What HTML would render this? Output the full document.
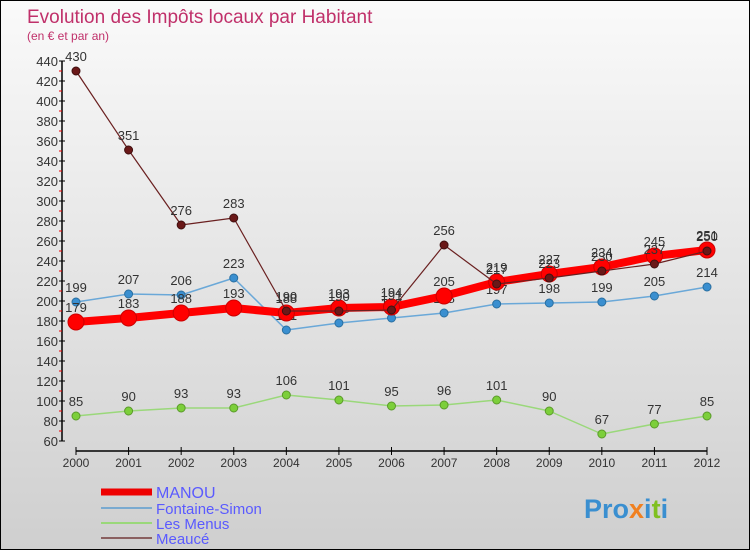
<!DOCTYPE html>
<html><head><meta charset="utf-8"><style>
body{margin:0}
#c{width:748px;height:548px;border:1px solid #000;background:linear-gradient(#fafafa,#cfcfcf);position:relative;overflow:hidden;font-family:"Liberation Sans",sans-serif}
</style></head><body>
<div id="c">
<svg width="748" height="548" font-family="Liberation Sans, sans-serif">
<text x="26" y="22" font-size="19" fill="#c0306a">Evolution des Impôts locaux par Habitant</text>
<text x="26" y="39" font-size="12" fill="#c0306a">(en € et par an)</text>
<g id="axes"></g><g id="series"></g>
<g>
<line x1="100" y1="491" x2="151" y2="491" stroke="#e00" stroke-width="7"/>
<text x="155" y="497" font-size="16" fill="#5a5aff">MANOU</text>
<line x1="100" y1="507" x2="151" y2="507" stroke="#7aaad0" stroke-width="2"/>
<text x="155" y="513" font-size="15" fill="#5a5aff">Fontaine-Simon</text>
<line x1="100" y1="522" x2="151" y2="522" stroke="#9ad87a" stroke-width="2"/>
<text x="155" y="528" font-size="15" fill="#5a5aff">Les Menus</text>
<line x1="100" y1="537" x2="151" y2="537" stroke="#8a6060" stroke-width="2"/>
<text x="155" y="543" font-size="15" fill="#5a5aff">Meaucé</text>
</g>
<text x="583" y="517" font-size="27" font-weight="bold" fill="#3a8fd0">Pro<tspan fill="#f08020">x</tspan><tspan fill="#3a8fd0">i</tspan><tspan fill="#80c020">t</tspan><tspan fill="#3a8fd0">i</tspan></text>
</svg></div>
<script>
const years=[2000,2001,2002,2003,2004,2005,2006,2007,2008,2009,2010,2011,2012];
const yTicks=[60,80,100,120,140,160,180,200,220,240,260,280,300,320,340,360,380,400,420,440];
const manou=[179,183,188,193,188,193,194,205,219,227,234,245,251];
const fontaine=[199,207,206,223,171,178,183,188,197,198,199,205,214];
const menus=[85,90,93,93,106,101,95,96,101,90,67,77,85];
const meauce=[430,351,276,283,190,190,191,256,217,223,230,237,250];
const NS='http://www.w3.org/2000/svg';
const X=i=>75+i*(706-75)/12;
const Y=v=>440-(v-60);
function mk(t,a,p){const e=document.createElementNS(NS,t);for(const k in a)e.setAttribute(k,a[k]);p.appendChild(e);return e;}
const ax=document.getElementById('axes');
let l=mk('line',{x1:61,y1:60,x2:61,y2:440,stroke:'#000','stroke-width':1.5},ax);


l=mk('line',{x1:75,y1:450,x2:706,y2:450,stroke:'#000','stroke-width':1.5},ax);


yTicks.forEach(v=>{
  mk('line',{x1:58,y1:Y(v),x2:64,y2:Y(v),stroke:'#000'},ax);
  if(v<440)mk('line',{x1:58,y1:Y(v+10),x2:61,y2:Y(v+10),stroke:'#e00'},ax);
  const t=mk('text',{x:57,y:Y(v)+5,'font-size':13,fill:'#333','text-anchor':'end'},ax);t.textContent=v;
  
  
});
years.forEach((yr,i)=>{
  mk('line',{x1:X(i),y1:446,x2:X(i),y2:454,stroke:'#000'},ax);
  const t=mk('text',{x:X(i),y:466,'font-size':12,fill:'#333','text-anchor':'middle'},ax);t.textContent=yr;
  
  
});
const sg=document.getElementById('series');
function draw(data,name,color,w,r,dot,stroke){
  const g=mk('g',{},sg);
  
  
  mk('polyline',{points:data.map((v,i)=>X(i)+','+Y(v)).join(' '),fill:'none',stroke:color,'stroke-width':w,'stroke-linejoin':'round'},g);
  data.forEach((v,i)=>{
    const c=mk('circle',{cx:X(i),cy:Y(v),r:r,fill:dot,stroke:stroke,'stroke-width':1},g);
    
    
    const t=mk('text',{x:X(i),y:Y(v)-10,'font-size':13,fill:'#333','text-anchor':'middle'},g);t.textContent=v;
  });
}
draw(menus,'les-menus-series','#9ad87a',1.5,4,'#7ccf3a','#5a9a2a');
draw(fontaine,'fontaine-simon-series','#6aa8d8',1.5,4,'#3a8fd0','#2a6fa0');
draw(manou,'manou-series','#f00',8,8,'#f00','#c00');
draw(meauce,'meauce-series','#6a2020',1.2,4,'#6a1818','#401010');
</script>
</body></html>
